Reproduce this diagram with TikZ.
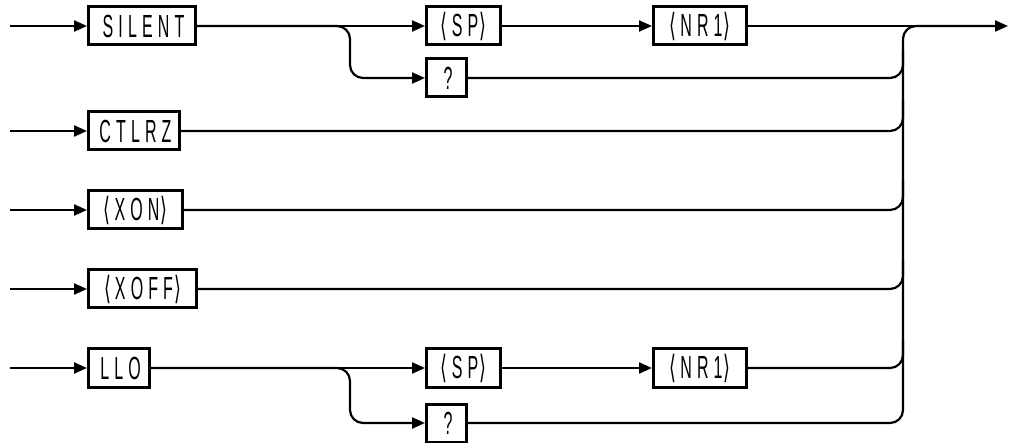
\documentclass[tikz,border=0pt]{standalone}
\usepackage{fontspec}
\setmainfont{Liberation Sans}[FakeStretch=0.5,LetterSpace=16]
\newfontfamily\symfont{DejaVu Sans}[FakeStretch=0.55]
\usetikzlibrary{arrows.meta}
\newcommand{\lb}{{\symfont ⟨}\hspace{4pt}}
\newcommand{\rb}{\hspace{1pt}{\symfont ⟩}}
\begin{document}
\begin{tikzpicture}[x=1pt,y=-1pt,
  term/.style={draw,line width=3pt,minimum height=38pt,inner sep=0pt,anchor=west,
    font=\fontsize{32}{32}\selectfont},
  conn/.style={line width=2.2pt},
  arr/.style={conn,-{Triangle[length=13pt,width=11pt]}},
  rc/.style={rounded corners=13pt}]
\useasboundingbox (0,0) rectangle (1009,443);
% boxes
\node[term,minimum width=107pt] (silent) at (87,26) {\hspace{3pt}SILENT};
\node[term,minimum width=74pt]  (sp1)    at (425,26) {\lb SP\rb};
\node[term,minimum width=93pt]  (nr1)    at (652,26) {\lb NR1\rb};
\node[term,minimum width=40pt]  (q1)     at (425,78) {\hspace{3pt}?};
\node[term,minimum width=91pt]  (ctlrz)  at (87,131) {\hspace{3pt}CTLRZ};
\node[term,minimum width=94pt]  (xon)    at (87,210) {\lb XON\rb};
\node[term,minimum width=108pt] (xoff)   at (87,289) {\lb XOFF\rb};
\node[term,minimum width=61pt]  (llo)    at (87,368) {\hspace{3pt}LLO};
\node[term,minimum width=74pt]  (sp2)    at (425,368) {\lb SP\rb};
\node[term,minimum width=93pt]  (nr2)    at (652,368) {\lb NR1\rb};
\node[term,minimum width=40pt]  (q2)     at (425,423) {\hspace{3pt}?};
% coordinates
\coordinate (s1) at (10,26);
\coordinate (s2) at (10,131);
\coordinate (s3) at (10,210);
\coordinate (s4) at (10,289);
\coordinate (s5) at (10,368);
\coordinate (out) at (1008,26);
% entries
\draw[arr] (s1) -- (silent);
\draw[arr] (s2) -- (ctlrz);
\draw[arr] (s3) -- (xon);
\draw[arr] (s4) -- (xoff);
\draw[arr] (s5) -- (llo);
% row 1
\draw[arr] (silent) -- (sp1);
\draw[arr] (sp1) -- (nr1);
\draw[arr,rc] (silent.east) -- (350,26) -- (350,78) -- (q1.west);
\draw[conn] (nr1.east) -- (930,26);
% trunk from the lowest branch up to the exit
\draw[arr,rc] (q2.east) -- (903,423) -- (903,26) -- (out);
% merges into the trunk
\draw[conn,rc] (q1.east) -- (903,78) -- (903,50);
\draw[conn,rc] (ctlrz.east) -- (903,131) -- (903,100);
\draw[conn,rc] (xon.east) -- (903,210) -- (903,180);
\draw[conn,rc] (xoff.east) -- (903,289) -- (903,260);
% LLO row
\draw[arr] (llo) -- (sp2);
\draw[arr] (sp2) -- (nr2);
\draw[arr,rc] (llo.east) -- (350,368) -- (350,423) -- (q2.west);
\draw[conn,rc] (nr2.east) -- (903,368) -- (903,340);
\end{tikzpicture}
\end{document}
